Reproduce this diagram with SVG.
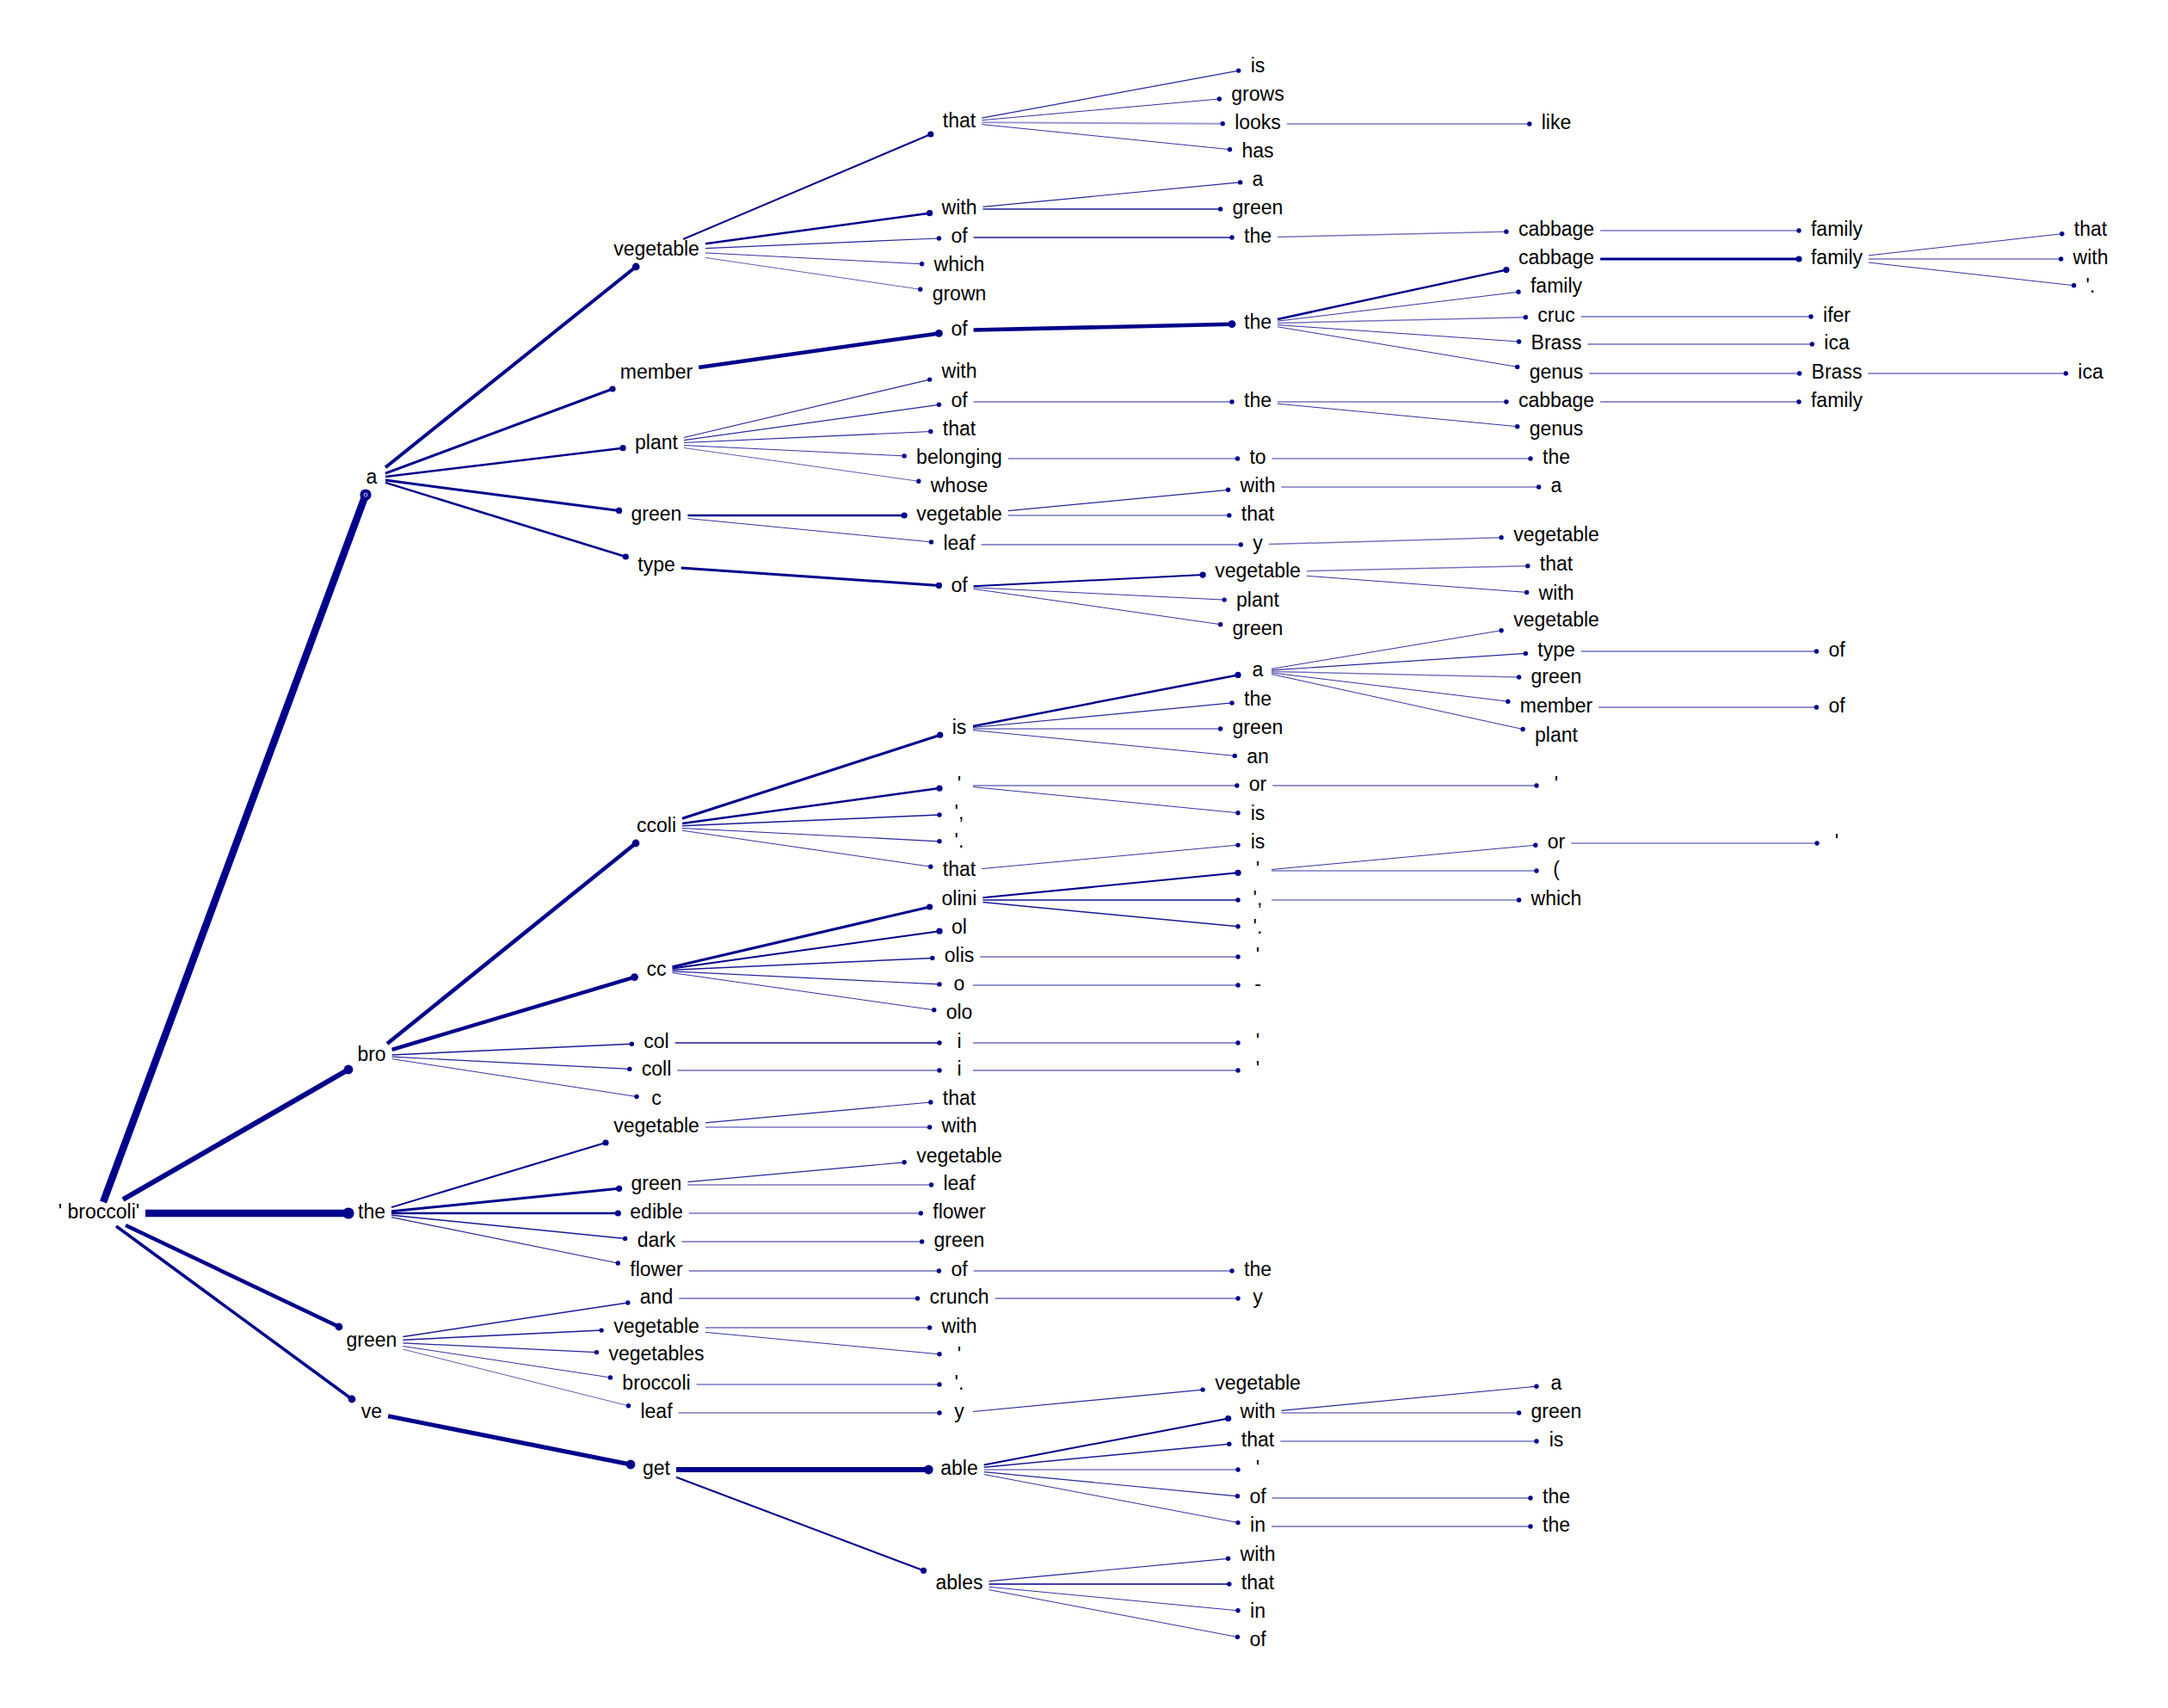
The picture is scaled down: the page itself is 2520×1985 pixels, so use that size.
<svg xmlns="http://www.w3.org/2000/svg" width="2520" height="1985" viewBox="0 0 2520 1985">
<style>
.t{font-family:"Liberation Sans",Arial,sans-serif;font-size:23px;text-anchor:middle;fill:#000}
line{stroke:#00008B;fill:none;stroke-width:1;marker-end:url(#d1)}
.a{stroke-width:.8;stroke-opacity:.8}
.b{stroke-width:1;stroke-opacity:.8}
.c{stroke-width:1.2;stroke-opacity:.85}
.d{stroke-width:1.5;stroke-opacity:.9}
.M{stroke-width:1.5;stroke-opacity:.55}
.L{stroke-width:2;stroke-opacity:.4}
.m2{stroke-width:2;stroke-opacity:.7}
.k2{stroke-width:2;marker-end:url(#d2)}
.D25{stroke-width:2.5;marker-end:url(#d2)}
.D3{stroke-width:3;marker-end:url(#d2)}
.D4{stroke-width:4;marker-end:url(#d3)}
.D45{stroke-width:4.5;marker-end:url(#d3)}
</style>
<defs>
<marker id="d1" viewBox="-5 -5 10 10" refX="0" refY="0" markerWidth="10" markerHeight="10" markerUnits="userSpaceOnUse"><circle r="2.7" fill="#00008B"/></marker>
<marker id="d2" viewBox="-5 -5 10 10" refX="0" refY="0" markerWidth="10" markerHeight="10" markerUnits="userSpaceOnUse"><circle r="3.6" fill="#00008B"/></marker>
<marker id="d3" viewBox="-6 -6 12 12" refX="0" refY="0" markerWidth="12" markerHeight="12" markerUnits="userSpaceOnUse"><circle r="4.4" fill="#00008B"/></marker>
<marker id="d4" viewBox="-7 -7 14 14" refX="0" refY="0" markerWidth="14" markerHeight="14" markerUnits="userSpaceOnUse"><circle r="5.4" fill="#00008B"/></marker>
<marker id="d5" viewBox="-8 -8 16 16" refX="0" refY="0" markerWidth="16" markerHeight="16" markerUnits="userSpaceOnUse"><circle r="6.6" fill="#00008B"/></marker>
<marker id="d5w" viewBox="-8 -8 16 16" refX="0" refY="0" markerWidth="16" markerHeight="16" markerUnits="userSpaceOnUse"><circle r="6.6" fill="#00008B"/><circle r="2" fill="none" stroke="#fff" stroke-width="0.8"/></marker>
</defs>
<rect width="2520" height="1985" fill="#fff"/>
<g id="edges">
<line x1="120" y1="1397" x2="425" y2="575" style="stroke-width:8.5;marker-end:url(#d5w)"/>
<line x1="143" y1="1394" x2="405" y2="1243" style="stroke-width:6;marker-end:url(#d4)"/>
<line x1="169" y1="1410" x2="405" y2="1410" style="stroke-width:8.5;marker-end:url(#d5)"/>
<line x1="146" y1="1424" x2="394" y2="1542" style="stroke-width:4.5;marker-end:url(#d3)"/>
<line x1="135" y1="1425" x2="409" y2="1626" style="stroke-width:3.5;marker-end:url(#d3)"/>
<line class="D4" x1="448" y1="543.2" x2="739.2" y2="310"/>
<line class="D3" x1="448" y1="550.1" x2="712" y2="452"/>
<line class="D25" x1="448" y1="554.1" x2="724.1" y2="520.7"/>
<line class="D3" x1="448" y1="558.1" x2="719.6" y2="593.4"/>
<line class="D25" x1="448" y1="560.9" x2="727.3" y2="647"/>
<line class="k2" x1="794" y1="278" x2="1081.8" y2="156"/>
<line class="D25" x1="819.9" y1="283.2" x2="1080.6" y2="247.7"/>
<line class="c" x1="819.9" y1="288.6" x2="1091.4" y2="277"/>
<line class="b" x1="819.9" y1="293.9" x2="1071.6" y2="306.8"/>
<line class="a" x1="819.9" y1="299.4" x2="1069.7" y2="336.3"/>
<line class="c" x1="1141.2" y1="137.2" x2="1439.7" y2="82.1"/>
<line class="b" x1="1141.2" y1="139.7" x2="1417.3" y2="115"/>
<line class="L" x1="1141.2" y1="142.2" x2="1421.2" y2="143.8"/>
<line class="b" x1="1141.2" y1="144.6" x2="1429.5" y2="173.7"/>
<line class="L" x1="1495.8" y1="144" x2="1777.8" y2="144"/>
<line class="c" x1="1142.4" y1="240.4" x2="1441.6" y2="211.9"/>
<line class="d" x1="1142.4" y1="243" x2="1418.6" y2="243"/>
<line class="d" x1="1131.6" y1="276" x2="1432" y2="276"/>
<line class="M" x1="1485" y1="275.5" x2="1750.9" y2="269.3"/>
<line class="L" x1="1860.1" y1="268" x2="2091" y2="268"/>
<line class="D45" x1="812.2" y1="427" x2="1091.4" y2="387.4"/>
<line class="D45" x1="1131.6" y1="383.6" x2="1432" y2="376.7"/>
<line class="D25" x1="1485" y1="371" x2="1750.9" y2="313.6"/>
<line class="b" x1="1485" y1="373.2" x2="1765" y2="339.3"/>
<line class="M" x1="1485" y1="375.5" x2="1773.3" y2="368.8"/>
<line class="b" x1="1485" y1="377.6" x2="1765.6" y2="397"/>
<line class="b" x1="1485" y1="379.8" x2="1763.7" y2="426.4"/>
<line class="D3" x1="1860.1" y1="301" x2="2091" y2="301"/>
<line class="b" x1="2172" y1="296.9" x2="2396.8" y2="271.7"/>
<line class="M" x1="2172" y1="301" x2="2395.6" y2="301"/>
<line class="b" x1="2172" y1="305.1" x2="2410.6" y2="331.8"/>
<line class="c" x1="1837.7" y1="368" x2="2105" y2="368"/>
<line class="c" x1="1845.4" y1="400" x2="2106.3" y2="400"/>
<line class="c" x1="1847.3" y1="434" x2="2091.6" y2="434"/>
<line class="c" x1="2171.4" y1="434" x2="2401.3" y2="434"/>
<line class="c" x1="794.9" y1="508.5" x2="1080.6" y2="441.1"/>
<line class="c" x1="794.9" y1="511.6" x2="1091.4" y2="470.3"/>
<line class="c" x1="794.9" y1="514.5" x2="1081.8" y2="501.5"/>
<line class="b" x1="794.9" y1="517.5" x2="1051.1" y2="529.9"/>
<line class="a" x1="794.9" y1="520.5" x2="1067.8" y2="559.3"/>
<line class="c" x1="1131.6" y1="467" x2="1432" y2="467"/>
<line class="M" x1="1485" y1="467" x2="1750.9" y2="467"/>
<line class="b" x1="1485" y1="469.2" x2="1763.7" y2="495.7"/>
<line class="c" x1="1860.1" y1="467" x2="2091" y2="467"/>
<line class="L" x1="1171.9" y1="533" x2="1438.4" y2="533"/>
<line class="L" x1="1478.6" y1="533" x2="1779" y2="533"/>
<line class="D25" x1="799.4" y1="599" x2="1051.1" y2="599"/>
<line class="b" x1="799.4" y1="602.5" x2="1082.5" y2="629.9"/>
<line class="c" x1="1171.9" y1="593.6" x2="1427.6" y2="569.3"/>
<line class="M" x1="1171.9" y1="599" x2="1428.8" y2="599"/>
<line class="L" x1="1489.4" y1="566" x2="1788.6" y2="566"/>
<line class="c" x1="1140.5" y1="633" x2="1442.3" y2="633"/>
<line class="M" x1="1474.8" y1="632.6" x2="1745.1" y2="624.8"/>
<line class="D3" x1="791.7" y1="660" x2="1091.4" y2="680.4"/>
<line class="k2" x1="1131.6" y1="681.2" x2="1398.1" y2="668.1"/>
<line class="b" x1="1131.6" y1="682.8" x2="1423.1" y2="697.1"/>
<line class="b" x1="1131.6" y1="684.4" x2="1418.6" y2="725.7"/>
<line class="M" x1="1518.9" y1="663.7" x2="1775.8" y2="657.8"/>
<line class="b" x1="1518.9" y1="669.3" x2="1774.6" y2="688.4"/>
<line class="D45" x1="450" y1="1213" x2="739" y2="980"/>
<line class="D45" x1="455.6" y1="1219.9" x2="737.5" y2="1135.6"/>
<line class="d" x1="455.6" y1="1225.9" x2="734.3" y2="1213.3"/>
<line class="c" x1="455.6" y1="1228.2" x2="731.8" y2="1242.4"/>
<line class="b" x1="455.6" y1="1230.6" x2="740" y2="1274.5"/>
<line class="D3" x1="793" y1="951.3" x2="1092.7" y2="854.2"/>
<line class="D25" x1="793" y1="956.9" x2="1092" y2="916.1"/>
<line class="d" x1="793" y1="959.7" x2="1092" y2="947"/>
<line class="c" x1="793" y1="962.5" x2="1092" y2="977.8"/>
<line class="b" x1="793" y1="965.2" x2="1081.8" y2="1007.2"/>
<line class="D25" x1="1131" y1="843.9" x2="1439" y2="784.4"/>
<line class="c" x1="1131" y1="845.5" x2="1432" y2="816.9"/>
<line class="c" x1="1131" y1="847" x2="1418.6" y2="847"/>
<line class="b" x1="1131" y1="848.6" x2="1435.2" y2="878.4"/>
<line class="b" x1="1478" y1="777.3" x2="1745.1" y2="732.7"/>
<line class="c" x1="1478" y1="778.9" x2="1773.3" y2="759.4"/>
<line class="M" x1="1478" y1="780.4" x2="1765.6" y2="787"/>
<line class="b" x1="1478" y1="781.9" x2="1752.8" y2="815.2"/>
<line class="b" x1="1478" y1="783.5" x2="1770.1" y2="847.5"/>
<line class="c" x1="1837.7" y1="757" x2="2111.4" y2="757"/>
<line class="c" x1="1858.2" y1="822" x2="2111.4" y2="822"/>
<line class="c" x1="1131" y1="913" x2="1437.8" y2="913"/>
<line class="b" x1="1131" y1="914.6" x2="1439" y2="944.7"/>
<line class="c" x1="1479.2" y1="913" x2="1786" y2="913"/>
<line class="b" x1="1141.2" y1="1009.6" x2="1439" y2="982.1"/>
<line class="D3" x1="781.5" y1="1123.7" x2="1080.6" y2="1054"/>
<line class="k2" x1="781.5" y1="1125.4" x2="1092" y2="1082.2"/>
<line class="d" x1="781.5" y1="1127.2" x2="1083.8" y2="1113.4"/>
<line class="c" x1="781.5" y1="1128.9" x2="1092" y2="1143.9"/>
<line class="b" x1="781.5" y1="1130.6" x2="1085.7" y2="1173.8"/>
<line class="k2" x1="1142.4" y1="1043.3" x2="1439" y2="1014.3"/>
<line class="m2" x1="1142.4" y1="1046" x2="1439" y2="1046"/>
<line class="d" x1="1142.4" y1="1048.6" x2="1439" y2="1076.8"/>
<line class="b" x1="1478" y1="1010.5" x2="1784.8" y2="982.2"/>
<line class="L" x1="1478" y1="1012" x2="1786" y2="1012"/>
<line class="L" x1="1826.2" y1="980" x2="2112" y2="980"/>
<line class="L" x1="1478" y1="1046" x2="1765.6" y2="1046"/>
<line class="c" x1="1139.2" y1="1112" x2="1439" y2="1112"/>
<line class="c" x1="1131" y1="1145" x2="1439" y2="1145"/>
<line class="d" x1="784.7" y1="1212" x2="1092" y2="1212"/>
<line class="c" x1="787.2" y1="1244" x2="1092" y2="1244"/>
<line class="c" x1="1131" y1="1212" x2="1439" y2="1212"/>
<line class="c" x1="1131" y1="1244" x2="1439" y2="1244"/>
<line class="k2" x1="455" y1="1403.1" x2="704" y2="1328"/>
<line class="D3" x1="455" y1="1407.7" x2="719.6" y2="1381.3"/>
<line class="D25" x1="455" y1="1410" x2="718.3" y2="1410"/>
<line class="d" x1="455" y1="1412.3" x2="726.6" y2="1439.4"/>
<line class="c" x1="455" y1="1414.7" x2="718.3" y2="1468"/>
<line class="c" x1="819.9" y1="1304.8" x2="1081.8" y2="1281"/>
<line class="L" x1="819.9" y1="1310" x2="1080.6" y2="1310"/>
<line class="c" x1="799.4" y1="1373.7" x2="1051.1" y2="1350.8"/>
<line class="L" x1="799.4" y1="1377" x2="1082.5" y2="1377"/>
<line class="M" x1="800.7" y1="1410" x2="1070.3" y2="1410"/>
<line class="c" x1="792.4" y1="1443" x2="1071.6" y2="1443"/>
<line class="c" x1="800.7" y1="1477" x2="1091.4" y2="1477"/>
<line class="c" x1="1131.6" y1="1477" x2="1432" y2="1477"/>
<line class="d" x1="468.4" y1="1553.5" x2="729.8" y2="1514"/>
<line class="d" x1="468.4" y1="1557.2" x2="699.1" y2="1546.1"/>
<line class="c" x1="468.4" y1="1560.8" x2="693.4" y2="1571.6"/>
<line class="b" x1="468.4" y1="1564.5" x2="709.4" y2="1600.9"/>
<line class="a" x1="468.4" y1="1568.1" x2="730.5" y2="1633.8"/>
<line class="c" x1="789.2" y1="1509" x2="1066.5" y2="1509"/>
<line class="c" x1="1156.5" y1="1509" x2="1439" y2="1509"/>
<line class="c" x1="819.9" y1="1543" x2="1080.6" y2="1543"/>
<line class="b" x1="819.9" y1="1548.3" x2="1092" y2="1573.8"/>
<line class="L" x1="809.6" y1="1609" x2="1092" y2="1609"/>
<line class="L" x1="788.5" y1="1642" x2="1092" y2="1642"/>
<line class="c" x1="1131" y1="1640.5" x2="1398.1" y2="1615.1"/>
<line x1="451.1" y1="1645.8" x2="733" y2="1702" style="stroke-width:5;marker-end:url(#d4)"/>
<line x1="786" y1="1708" x2="1079.3" y2="1708" style="stroke-width:6;marker-end:url(#d4)"/>
<line class="k2" x1="786" y1="1716.7" x2="1073.5" y2="1825.3"/>
<line class="k2" x1="1143.7" y1="1702.5" x2="1427.6" y2="1648.5"/>
<line class="d" x1="1143.7" y1="1705.3" x2="1428.8" y2="1678.2"/>
<line class="L" x1="1143.7" y1="1708" x2="1439" y2="1708"/>
<line class="c" x1="1143.7" y1="1710.7" x2="1438.4" y2="1738.8"/>
<line class="b" x1="1143.7" y1="1713.5" x2="1439" y2="1769.6"/>
<line class="c" x1="1489.4" y1="1639.4" x2="1786" y2="1611.2"/>
<line class="L" x1="1489.4" y1="1642" x2="1765.6" y2="1642"/>
<line class="L" x1="1488.2" y1="1675" x2="1786" y2="1675"/>
<line class="c" x1="1478.6" y1="1741" x2="1779" y2="1741"/>
<line class="c" x1="1478" y1="1774" x2="1779" y2="1774"/>
<line class="c" x1="1149.5" y1="1837.7" x2="1427.6" y2="1811.3"/>
<line class="d" x1="1149.5" y1="1841" x2="1428.8" y2="1841" style="stroke-opacity:1"/>
<line class="b" x1="1149.5" y1="1844.3" x2="1439" y2="1871.8"/>
<line class="b" x1="1149.5" y1="1847.6" x2="1438.4" y2="1902.5"/>
</g>
<g id="n0"><text class="t" x="115" y="1416">' broccoli'</text></g>
<g id="n1-556"><text class="t" x="432" y="562">a</text></g>
<g id="n1-1227"><text class="t" x="432" y="1233">bro</text></g>
<g id="n1-1410"><text class="t" x="432" y="1416">the</text></g>
<g id="n1-1559"><text class="t" x="432" y="1565">green</text></g>
<g id="n1-1642"><text class="t" x="432" y="1648">ve</text></g>
<g id="n2-291"><text class="t" x="763" y="297">vegetable</text></g>
<g id="n2-434"><text class="t" x="763" y="440">member</text></g>
<g id="n2-516"><text class="t" x="763" y="522">plant</text></g>
<g id="n2-599"><text class="t" x="763" y="605">green</text></g>
<g id="n2-658"><text class="t" x="763" y="664">type</text></g>
<g id="n2-961"><text class="t" x="763" y="967">ccoli</text></g>
<g id="n2-1128"><text class="t" x="763" y="1134">cc</text></g>
<g id="n2-1212"><text class="t" x="763" y="1218">col</text></g>
<g id="n2-1244"><text class="t" x="763" y="1250">coll</text></g>
<g id="n2-1278"><text class="t" x="763" y="1284">c</text></g>
<g id="n2-1310"><text class="t" x="763" y="1316">vegetable</text></g>
<g id="n2-1377"><text class="t" x="763" y="1383">green</text></g>
<g id="n2-1410"><text class="t" x="763" y="1416">edible</text></g>
<g id="n2-1443"><text class="t" x="763" y="1449">dark</text></g>
<g id="n2-1477"><text class="t" x="763" y="1483">flower</text></g>
<g id="n2-1509"><text class="t" x="763" y="1515">and</text></g>
<g id="n2-1543"><text class="t" x="763" y="1549">vegetable</text></g>
<g id="n2-1575"><text class="t" x="763" y="1581">vegetables</text></g>
<g id="n2-1609"><text class="t" x="763" y="1615">broccoli</text></g>
<g id="n2-1642"><text class="t" x="763" y="1648">leaf</text></g>
<g id="n2-1708"><text class="t" x="763" y="1714">get</text></g>
<g id="n3-142"><text class="t" x="1115" y="148">that</text></g>
<g id="n3-243"><text class="t" x="1115" y="249">with</text></g>
<g id="n3-276"><text class="t" x="1115" y="282">of</text></g>
<g id="n3-309"><text class="t" x="1115" y="315">which</text></g>
<g id="n3-343"><text class="t" x="1115" y="349">grown</text></g>
<g id="n3-384"><text class="t" x="1115" y="390">of</text></g>
<g id="n3-433"><text class="t" x="1115" y="439">with</text></g>
<g id="n3-467"><text class="t" x="1115" y="473">of</text></g>
<g id="n3-500"><text class="t" x="1115" y="506">that</text></g>
<g id="n3-533"><text class="t" x="1115" y="539">belonging</text></g>
<g id="n3-566"><text class="t" x="1115" y="572">whose</text></g>
<g id="n3-599"><text class="t" x="1115" y="605">vegetable</text></g>
<g id="n3-633"><text class="t" x="1115" y="639">leaf</text></g>
<g id="n3-682"><text class="t" x="1115" y="688">of</text></g>
<g id="n3-847"><text class="t" x="1115" y="853">is</text></g>
<g id="n3-913"><text class="t" x="1115" y="919">'</text></g>
<g id="n3-946"><text class="t" x="1115" y="952">',</text></g>
<g id="n3-979"><text class="t" x="1115" y="985">'.</text></g>
<g id="n3-1012"><text class="t" x="1115" y="1018">that</text></g>
<g id="n3-1046"><text class="t" x="1115" y="1052">olini</text></g>
<g id="n3-1079"><text class="t" x="1115" y="1085">ol</text></g>
<g id="n3-1112"><text class="t" x="1115" y="1118">olis</text></g>
<g id="n3-1145"><text class="t" x="1115" y="1151">o</text></g>
<g id="n3-1178"><text class="t" x="1115" y="1184">olo</text></g>
<g id="n3-1212"><text class="t" x="1115" y="1218">i</text></g>
<g id="n3-1244"><text class="t" x="1115" y="1250">i</text></g>
<g id="n3-1278"><text class="t" x="1115" y="1284">that</text></g>
<g id="n3-1310"><text class="t" x="1115" y="1316">with</text></g>
<g id="n3-1345"><text class="t" x="1115" y="1351">vegetable</text></g>
<g id="n3-1377"><text class="t" x="1115" y="1383">leaf</text></g>
<g id="n3-1410"><text class="t" x="1115" y="1416">flower</text></g>
<g id="n3-1443"><text class="t" x="1115" y="1449">green</text></g>
<g id="n3-1477"><text class="t" x="1115" y="1483">of</text></g>
<g id="n3-1509"><text class="t" x="1115" y="1515">crunch</text></g>
<g id="n3-1543"><text class="t" x="1115" y="1549">with</text></g>
<g id="n3-1576"><text class="t" x="1115" y="1582">'</text></g>
<g id="n3-1609"><text class="t" x="1115" y="1615">'.</text></g>
<g id="n3-1642"><text class="t" x="1115" y="1648">y</text></g>
<g id="n3-1708"><text class="t" x="1115" y="1714">able</text></g>
<g id="n3-1841"><text class="t" x="1115" y="1847">ables</text></g>
<g id="n4-78"><text class="t" x="1462" y="84">is</text></g>
<g id="n4-111"><text class="t" x="1462" y="117">grows</text></g>
<g id="n4-144"><text class="t" x="1462" y="150">looks</text></g>
<g id="n4-177"><text class="t" x="1462" y="183">has</text></g>
<g id="n4-210"><text class="t" x="1462" y="216">a</text></g>
<g id="n4-243"><text class="t" x="1462" y="249">green</text></g>
<g id="n4-276"><text class="t" x="1462" y="282">the</text></g>
<g id="n4-376"><text class="t" x="1462" y="382">the</text></g>
<g id="n4-467"><text class="t" x="1462" y="473">the</text></g>
<g id="n4-533"><text class="t" x="1462" y="539">to</text></g>
<g id="n4-566"><text class="t" x="1462" y="572">with</text></g>
<g id="n4-599"><text class="t" x="1462" y="605">that</text></g>
<g id="n4-633"><text class="t" x="1462" y="639">y</text></g>
<g id="n4-665"><text class="t" x="1462" y="671">vegetable</text></g>
<g id="n4-699"><text class="t" x="1462" y="705">plant</text></g>
<g id="n4-732"><text class="t" x="1462" y="738">green</text></g>
<g id="n4-780"><text class="t" x="1462" y="786">a</text></g>
<g id="n4-814"><text class="t" x="1462" y="820">the</text></g>
<g id="n4-847"><text class="t" x="1462" y="853">green</text></g>
<g id="n4-881"><text class="t" x="1462" y="887">an</text></g>
<g id="n4-913"><text class="t" x="1462" y="919">or</text></g>
<g id="n4-947"><text class="t" x="1462" y="953">is</text></g>
<g id="n4-980"><text class="t" x="1462" y="986">is</text></g>
<g id="n4-1012"><text class="t" x="1462" y="1018">'</text></g>
<g id="n4-1046"><text class="t" x="1462" y="1052">',</text></g>
<g id="n4-1079"><text class="t" x="1462" y="1085">'.</text></g>
<g id="n4-1112"><text class="t" x="1462" y="1118">'</text></g>
<g id="n4-1145"><text class="t" x="1462" y="1151">-</text></g>
<g id="n4-1212"><text class="t" x="1462" y="1218">'</text></g>
<g id="n4-1244"><text class="t" x="1462" y="1250">'</text></g>
<g id="n4-1477"><text class="t" x="1462" y="1483">the</text></g>
<g id="n4-1509"><text class="t" x="1462" y="1515">y</text></g>
<g id="n4-1609"><text class="t" x="1462" y="1615">vegetable</text></g>
<g id="n4-1642"><text class="t" x="1462" y="1648">with</text></g>
<g id="n4-1675"><text class="t" x="1462" y="1681">that</text></g>
<g id="n4-1708"><text class="t" x="1462" y="1714">'</text></g>
<g id="n4-1741"><text class="t" x="1462" y="1747">of</text></g>
<g id="n4-1774"><text class="t" x="1462" y="1780">in</text></g>
<g id="n4-1808"><text class="t" x="1462" y="1814">with</text></g>
<g id="n4-1841"><text class="t" x="1462" y="1847">that</text></g>
<g id="n4-1874"><text class="t" x="1462" y="1880">in</text></g>
<g id="n4-1907"><text class="t" x="1462" y="1913">of</text></g>
<g id="n5-144"><text class="t" x="1809" y="150">like</text></g>
<g id="n5-268"><text class="t" x="1809" y="274">cabbage</text></g>
<g id="n5-301"><text class="t" x="1809" y="307">cabbage</text></g>
<g id="n5-334"><text class="t" x="1809" y="340">family</text></g>
<g id="n5-368"><text class="t" x="1809" y="374">cruc</text></g>
<g id="n5-400"><text class="t" x="1809" y="406">Brass</text></g>
<g id="n5-434"><text class="t" x="1809" y="440">genus</text></g>
<g id="n5-467"><text class="t" x="1809" y="473">cabbage</text></g>
<g id="n5-500"><text class="t" x="1809" y="506">genus</text></g>
<g id="n5-533"><text class="t" x="1809" y="539">the</text></g>
<g id="n5-566"><text class="t" x="1809" y="572">a</text></g>
<g id="n5-623"><text class="t" x="1809" y="629">vegetable</text></g>
<g id="n5-657"><text class="t" x="1809" y="663">that</text></g>
<g id="n5-691"><text class="t" x="1809" y="697">with</text></g>
<g id="n5-722"><text class="t" x="1809" y="728">vegetable</text></g>
<g id="n5-757"><text class="t" x="1809" y="763">type</text></g>
<g id="n5-788"><text class="t" x="1809" y="794">green</text></g>
<g id="n5-822"><text class="t" x="1809" y="828">member</text></g>
<g id="n5-856"><text class="t" x="1809" y="862">plant</text></g>
<g id="n5-913"><text class="t" x="1809" y="919">'</text></g>
<g id="n5-980"><text class="t" x="1809" y="986">or</text></g>
<g id="n5-1012"><text class="t" x="1809" y="1018">(</text></g>
<g id="n5-1046"><text class="t" x="1809" y="1052">which</text></g>
<g id="n5-1609"><text class="t" x="1809" y="1615">a</text></g>
<g id="n5-1642"><text class="t" x="1809" y="1648">green</text></g>
<g id="n5-1675"><text class="t" x="1809" y="1681">is</text></g>
<g id="n5-1741"><text class="t" x="1809" y="1747">the</text></g>
<g id="n5-1774"><text class="t" x="1809" y="1780">the</text></g>
<g id="n6-268"><text class="t" x="2135" y="274">family</text></g>
<g id="n6-301"><text class="t" x="2135" y="307">family</text></g>
<g id="n6-368"><text class="t" x="2135" y="374">ifer</text></g>
<g id="n6-400"><text class="t" x="2135" y="406">ica</text></g>
<g id="n6-434"><text class="t" x="2135" y="440">Brass</text></g>
<g id="n6-467"><text class="t" x="2135" y="473">family</text></g>
<g id="n6-757"><text class="t" x="2135" y="763">of</text></g>
<g id="n6-822"><text class="t" x="2135" y="828">of</text></g>
<g id="n6-980"><text class="t" x="2135" y="986">'</text></g>
<g id="n7-268"><text class="t" x="2430" y="274">that</text></g>
<g id="n7-301"><text class="t" x="2430" y="307">with</text></g>
<g id="n7-334"><text class="t" x="2430" y="340">'.</text></g>
<g id="n7-434"><text class="t" x="2430" y="440">ica</text></g>
</svg>
